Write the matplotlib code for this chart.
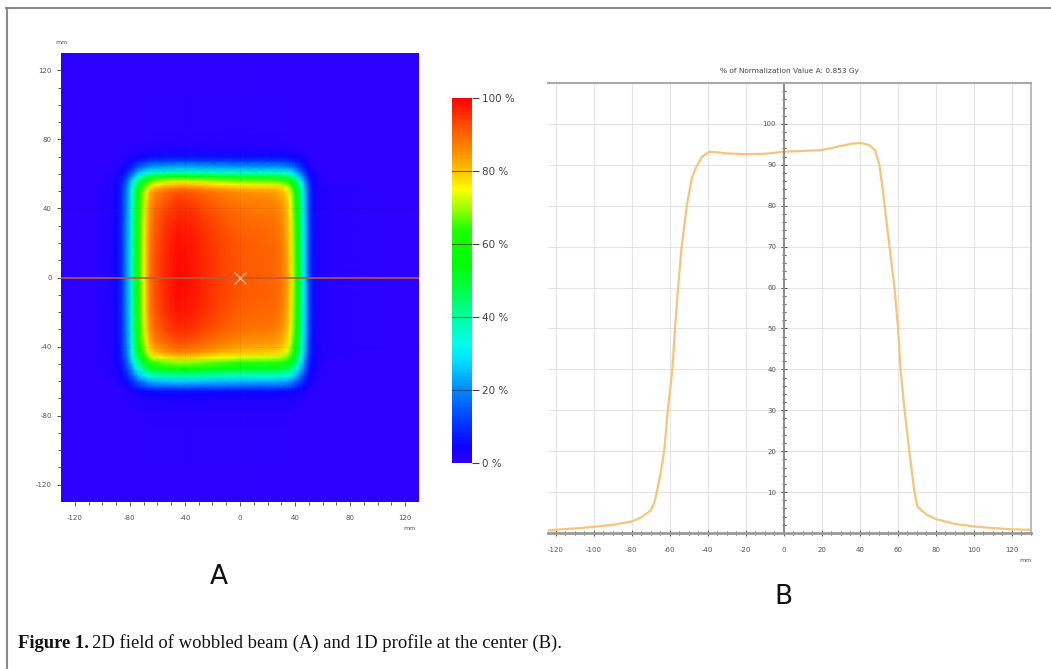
import numpy as np
import matplotlib
matplotlib.use("Agg")
import matplotlib.pyplot as plt
from matplotlib.colors import LinearSegmentedColormap
from matplotlib.lines import Line2D

plt.rcParams["axes.unicode_minus"] = False

# ---- panel A: 2D field, built from the x and y edge profiles (fraction of max)
field_x = [-130, -110, -96, -90, -86, -82, -78.5, -76, -73.7, -70, -67.6, -65.5, -62, -55,
           -45, -35, -25, -15, 0, 10, 20, 25, 30, 33.9, 36.5, 38.7, 41.5, 44.8, 47, 49.6,
           53, 58, 66, 130]
field_px = [0, 0, 0.01, 0.04, 0.1, 0.22, 0.38, 0.5, 0.62, 0.74, 0.82, 0.88, 0.92, 0.96,
            0.99, 0.98, 0.96, 0.94, 0.915, 0.91, 0.905, 0.9, 0.88, 0.84, 0.78, 0.7, 0.56,
            0.4, 0.28, 0.15, 0.06, 0.02, 0.005, 0]
field_y = [-130, -80, -72, -68, -65.6, -63.6, -60, -56.9, -53, -49.2, -46.3, -43, -38,
           -30, -20, -10, 10, 20, 30, 38, 44, 49, 51.5, 54, 56, 58.5, 60.7, 64, 67.4, 70,
           74, 80, 130]
field_py = [0, 0.005, 0.02, 0.04, 0.07, 0.15, 0.27, 0.4, 0.56, 0.7, 0.8, 0.88, 0.93,
            0.97, 0.99, 1.0, 1.0, 0.995, 0.985, 0.97, 0.955, 0.935, 0.89, 0.81, 0.73, 0.55,
            0.4, 0.24, 0.13, 0.06, 0.02, 0.005, 0]

# ---- panel B: 1D profile at the center
prof_x = [-124, -120, -110, -100, -90, -80, -75, -70, -68, -66.8, -65, -62.9, -61, -58.6,
          -57.2, -55.6, -53.7, -51, -48.4, -46, -43, -39, -30, -20, -10, 0, 10, 20, 30,
          36, 41, 45, 48, 50.3, 52, 55.6, 58.2, 60.1, 61.4, 63.5, 66, 68.7, 70.3, 75, 80,
          90, 100, 110, 120, 130]
prof_y = [0.6, 0.8, 1.1, 1.5, 2.0, 2.8, 3.8, 5.5, 7.5, 10, 14, 20, 30, 40, 50, 60, 70, 80,
          86.7, 89.5, 92, 93.2, 92.8, 92.6, 92.7, 93.2, 93.4, 93.6, 94.6, 95.2, 95.3, 94.8,
          93.5, 89.9, 84, 70, 60, 50, 40, 30, 20, 10, 6.4, 4.5, 3.4, 2.2, 1.6, 1.2, 0.9, 0.8]

cbar_ticks = [0, 20, 40, 60, 80, 100]
cbar_labels = ["0 %", "20 %", "40 %", "60 %", "80 %", "100 %"]

W, H = 1051, 669


def fx(x):
    return x / W


def fy(y):
    return 1 - y / H


cmap = LinearSegmentedColormap.from_list("dose", [
    (0.00, "#2c00ff"), (0.04, "#1000ff"), (0.10, "#0030ff"), (0.20, "#0088ff"),
    (0.28, "#00e0ff"), (0.33, "#00ffe8"), (0.40, "#00ffa0"), (0.48, "#00ff40"),
    (0.55, "#00ff00"), (0.64, "#20ff00"), (0.70, "#a0ff00"), (0.75, "#ffff00"),
    (0.80, "#ffc400"), (0.86, "#ff8800"), (0.92, "#ff5500"), (1.00, "#ff0000")])

fig = plt.figure(figsize=(W / 100, H / 100), dpi=100)
fig.patch.set_facecolor("white")

tick_col = "#555555"

# ---------- panel A
axA = fig.add_axes([fx(61), fy(502), fx(419) - fx(61), fy(53) - fy(502)])
dose = np.outer(field_py, field_px) * 100
axA.pcolormesh(field_x, field_y, dose, cmap=cmap, vmin=0, vmax=100, shading="gouraud")
axA.set_xlim(-130, 130)
axA.set_ylim(-130, 130)
axA.set_xticks([-120, -80, -40, 0, 40, 80, 120])
axA.set_yticks([-120, -80, -40, 0, 40, 80, 120])
axA.set_xticks(np.arange(-120, 121, 10), minor=True)
axA.set_yticks(np.arange(-120, 121, 10), minor=True)
axA.tick_params(which="both", labelsize=5, colors=tick_col, length=3, width=0.7)
axA.tick_params(which="minor", length=2)
axA.tick_params(axis="x", pad=6)
for s in axA.spines.values():
    s.set_visible(False)
for v in [-40, 40]:
    axA.axhline(v, color="black", alpha=0.07, lw=0.6)
for v in [-40, 0, 40]:
    axA.axvline(v, color="black", alpha=0.06, lw=0.6)
axA.axhline(0, color="#b85a42", lw=1.2)
axA.plot(0, 0, marker="x", ms=8, mew=1.0, color="#f2b58a")
fig.text(fx(62), fy(42), "mm", fontsize=4.5, color=tick_col, ha="center", va="center")
fig.text(fx(410), fy(528), "mm", fontsize=4.5, color=tick_col, ha="center", va="center")

# colorbar
cax = fig.add_axes([fx(452), fy(463), fx(472) - fx(452), fy(98) - fy(463)])
sm = plt.cm.ScalarMappable(cmap=cmap, norm=plt.Normalize(0, 100))
cb = fig.colorbar(sm, cax=cax, ticks=cbar_ticks)
cb.set_ticklabels(cbar_labels)
cb.outline.set_visible(False)
cax.tick_params(labelsize=7.5, colors="#444444", length=5, width=0.8, pad=2)
for v in [20, 40, 60, 80]:
    cax.axhline(v, color="#333333", lw=0.8, alpha=0.7)

# ---------- panel B
axB = fig.add_axes([fx(548), fy(533), fx(1031) - fx(548), fy(83) - fy(533)])
axB.plot(prof_x, prof_y, color="#f6c47c", lw=1.6)
axB.set_xlim(-124, 130)
axB.set_ylim(0, 110)
axB.set_xticks(np.arange(-120, 121, 20))
axB.set_yticks(np.arange(10, 101, 10))
axB.set_xticks(np.arange(-120, 131, 5), minor=True)
axB.set_yticks(np.arange(0, 110, 2), minor=True)
axB.grid(True, which="major", color="#e4e4e4", lw=0.8)
axB.set_axisbelow(True)
axB.spines["left"].set_position(("data", 0))
axB.spines["left"].set_color("#8c8c8c")
axB.spines["left"].set_linewidth(1.4)
axB.spines["bottom"].set_color("#9a9a9a")
axB.spines["bottom"].set_linewidth(2)
axB.spines["top"].set_color("#a8a8a8")
axB.spines["top"].set_linewidth(1.5)
axB.spines["right"].set_color("#bbbbbb")
axB.spines["right"].set_linewidth(1.5)
axB.tick_params(which="both", labelsize=5, colors=tick_col, direction="inout", length=4, width=0.7)
axB.tick_params(which="minor", length=3)
axB.tick_params(axis="x", pad=8)
axB.set_title("% of Normalization Value A: 0.853 Gy", fontsize=5.3, color="#444444", pad=7)
fig.text(fx(1025), fy(561), "mm", fontsize=4.5, color=tick_col, ha="center", va="center")

# panel letters
fig.text(fx(219), fy(577), "A", fontsize=19, ha="center", va="center", color="#111111")
fig.text(fx(783), fy(597), "B", fontsize=19, ha="center", va="center", color="#111111")

# frame lines of the figure box
fig.add_artist(Line2D([fx(6), fx(1051)], [fy(8), fy(8)], color="#8a8a8a", lw=1.5))
fig.add_artist(Line2D([fx(7), fx(7)], [fy(8), fy(669)], color="#8a8a8a", lw=1.5))

# caption
t1 = fig.text(fx(18), fy(648), "Figure 1.", fontsize=13.4, family="Liberation Serif",
              weight="bold", va="baseline", color="#111111")
fig.canvas.draw()
bb = t1.get_window_extent()
fig.text(bb.x1 / W + 3 / W, fy(648),
         "2D field of wobbled beam (A) and 1D profile at the center (B).",
         fontsize=13.4, family="Liberation Serif", va="baseline", color="#111111")

fig.savefig("out.png", dpi=100)
